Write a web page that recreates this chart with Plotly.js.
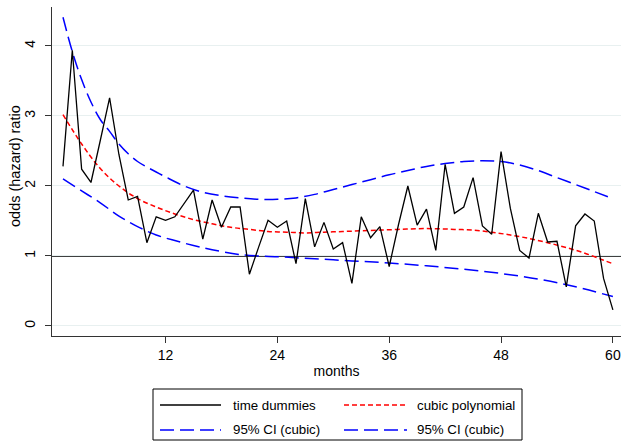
<!DOCTYPE html>
<html>
<head>
<meta charset="utf-8">
<script src="https://cdn.plot.ly/plotly-3.0.1.min.js"></script>
<style>html,body{margin:0;padding:0;background:#fff;}#chart{width:624px;height:441px;}</style>
</head>
<body>
<div id="chart"></div>
<script>
// ---- data ----
const months = [1,2,3,4,5,6,7,8,9,10,11,12,13,14,15,16,17,18,19,20,21,22,23,24,25,26,27,28,29,30,
                31,32,33,34,35,36,37,38,39,40,41,42,43,44,45,46,47,48,49,50,51,52,53,54,55,56,57,58,59,60];
const timeDummies = [2.28,3.94,2.24,2.05,2.65,3.26,2.45,1.80,1.85,1.19,1.56,1.51,1.56,1.75,1.94,1.24,1.80,1.41,1.70,1.70,
                     0.74,1.13,1.51,1.41,1.50,0.89,1.82,1.13,1.48,1.10,1.19,0.61,1.56,1.26,1.42,0.85,1.45,2.00,1.44,1.67,
                     1.08,2.31,1.61,1.70,2.12,1.43,1.31,2.49,1.68,1.08,0.97,1.61,1.20,1.21,0.56,1.43,1.60,1.50,0.68,0.23];
const cubicMonths = [1,3,5,7,9,11,13,15,17,19,21,23,25,27,29,31,33,35,37,39,41,43,45,47,49,51,53,55,57,59,60];
const cubicValues = [3.02,2.60,2.25,2.00,1.82,1.70,1.60,1.52,1.46,1.41,1.38,1.35,1.34,1.33,1.34,1.35,1.36,1.37,1.38,1.39,
                     1.39,1.38,1.37,1.34,1.30,1.25,1.19,1.12,1.04,0.94,0.89];
const upperMonths = [1,2,3,4,5,6,7,8,9,10,11,12,14,16,18,20,22,24,26,28,30,32,34,36,38,40,42,44,46,48,50,52,54,56,58,60];
const upperValues = [4.41,3.92,3.52,3.20,2.95,2.78,2.60,2.46,2.35,2.27,2.20,2.13,2.00,1.91,1.86,1.83,1.81,1.81,1.83,1.88,
                     1.95,2.02,2.09,2.16,2.22,2.28,2.32,2.35,2.36,2.35,2.30,2.22,2.12,2.02,1.92,1.82];
const lowerMonths = [1,3,5,7,9,11,13,15,17,20,24,28,32,36,40,44,48,52,56,60];
const lowerValues = [2.10,1.93,1.76,1.57,1.42,1.30,1.22,1.15,1.09,1.02,0.99,0.96,0.93,0.90,0.86,0.81,0.75,0.67,0.56,0.42];
const xTicks = [12,24,36,48,60];
const yTicks = [0,1,2,3,4];
const legendLabels = ["time dummies","cubic polynomial","95% CI (cubic)","95% CI (cubic)"];
const yTitle = "odds (hazard) ratio";
const xTitle = "months";
const refValue = 1;

// ---- layout geometry ----
const W = 624, H = 441;
const mL = 52, mR = 3, mT = 7, mB = 105;
const plotW = W - mL - mR, plotH = H - mT - mB;
const px = x => (x - mL) / plotW;
const py = y => (H - mB - y) / plotH;

const FONT = "Liberation Sans, Arial, Helvetica, sans-serif";
const RED = "#ff0000", BLUE = "#0000ff";
const redDash = "5px,3px", blueDash = "14px,6px";

const traces = [
  {x: lowerMonths, y: lowerValues, mode: "lines", line: {color: BLUE, width: 1.5, dash: blueDash, shape: "spline"}, hoverinfo: "skip"},
  {x: upperMonths, y: upperValues, mode: "lines", line: {color: BLUE, width: 1.5, dash: blueDash, shape: "spline"}, hoverinfo: "skip"},
  {x: cubicMonths, y: cubicValues, mode: "lines", line: {color: RED, width: 1.5, dash: redDash, shape: "spline"}, hoverinfo: "skip"},
  {x: months, y: timeDummies, mode: "lines", line: {color: "#000000", width: 1.3}, hoverinfo: "skip"}
];

// manual legend (box, samples, labels)
const lx1 = 153, lx2 = 522, ly1 = 389, ly2 = 440;
const rows = [405, 430];
const sampleCols = [[160, 221], [344, 407]];
const textCols = [231, 415];
const legendStyles = [
  {color: "#000000", dash: "solid"},
  {color: RED, dash: redDash},
  {color: BLUE, dash: blueDash},
  {color: BLUE, dash: blueDash}
];

const shapes = [
  {type: "line", xref: "paper", yref: "y", x0: 0, x1: 1, y0: refValue, y1: refValue,
   line: {color: "#000000", width: 1.3}, layer: "below"},
  {type: "rect", xref: "paper", yref: "paper", x0: px(lx1), x1: px(lx2), y0: py(ly1), y1: py(ly2),
   line: {color: "#000000", width: 1}, fillcolor: "rgba(0,0,0,0)"}
];
const annotations = [
  {xref: "paper", yref: "paper", x: px(15), y: py(166), xanchor: "center", yanchor: "middle",
   text: yTitle, textangle: -90, showarrow: false, font: {family: FONT, size: 14.5, color: "#000"}}
];
legendLabels.forEach((lab, i) => {
  const r = Math.floor(i / 2), c = i % 2;
  shapes.push({type: "line", xref: "paper", yref: "paper",
    x0: px(sampleCols[c][0]), x1: px(sampleCols[c][1]), y0: py(rows[r]), y1: py(rows[r]),
    line: {color: legendStyles[i].color, width: 1.5, dash: legendStyles[i].dash}});
  annotations.push({xref: "paper", yref: "paper", x: px(textCols[c]), y: py(rows[r]),
    xanchor: "left", yanchor: "middle", text: lab, showarrow: false,
    font: {family: FONT, size: 13.3, color: "#000"}});
});

const layout = {
  width: W, height: H,
  margin: {l: mL, r: mR, t: mT, b: mB, pad: 0},
  paper_bgcolor: "#ffffff", plot_bgcolor: "#ffffff",
  showlegend: false,
  font: {family: FONT, size: 14, color: "#000"},
  xaxis: {
    range: [-0.18, 60.87], tickvals: xTicks, ticktext: xTicks.map(String),
    showgrid: false, zeroline: false, showline: true, linecolor: "#333", linewidth: 1,
    ticks: "outside", ticklen: 6, tickcolor: "#333", tickwidth: 1,
    tickfont: {family: FONT, size: 14, color: "#000"},
    title: {text: xTitle, font: {family: FONT, size: 14, color: "#000"}, standoff: 4}
  },
  yaxis: {
    range: [-0.143, 4.557], tickvals: yTicks, ticktext: yTicks.map(String),
    showgrid: true, gridcolor: "#e8f0f0", gridwidth: 1, zeroline: false,
    showline: true, linecolor: "#333", linewidth: 1,
    ticks: "outside", ticklen: 6, tickcolor: "#333", tickwidth: 1, tickangle: -90,
    ticklabelstandoff: 4,
    tickfont: {family: FONT, size: 14, color: "#000"}
  },
  shapes: shapes,
  annotations: annotations
};

Plotly.newPlot("chart", traces, layout, {displayModeBar: false, staticPlot: true});
</script>
</body>
</html>
